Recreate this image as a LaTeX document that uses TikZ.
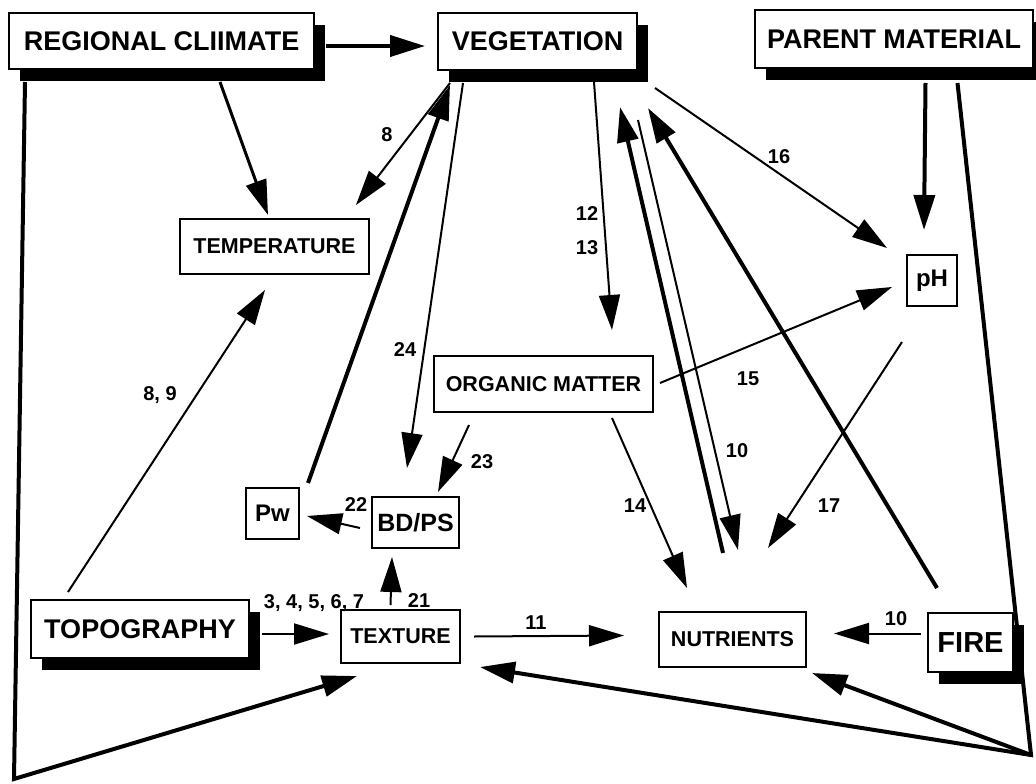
\documentclass[tikz,border=0pt]{standalone}
\usepackage{fontspec}
\setmainfont{Liberation Sans}
\usepackage{tikz}
\usetikzlibrary{arrows.meta}
\usetikzlibrary{shadows}
\usetikzlibrary{positioning}

\begin{document}
\begin{tikzpicture}[x=1pt, y=-1pt,  % one unit is one pixel of the scan, y runs down
     myboxbig/.style={rectangle, draw, fill=white, line width=2.2pt, inner sep=0pt, outer sep=0pt, font=\fontsize{27}{27}\selectfont\bfseries,
         drop shadow={shadow xshift=11pt, shadow yshift=-12pt, opacity=1, fill=black}},
     myboxsmall/.style={rectangle, draw, fill=white, line width=2pt, inner sep=0pt, outer sep=0pt, font=\fontsize{21.5}{21.5}\selectfont\bfseries},
     mythin/.style={line width=2pt, -{Triangle[length=35pt, width=21pt]}},
     mythick/.style={line width=4pt, -{Triangle[length=35pt, width=21pt]}},
     mynum/.style={inner sep=0pt, font=\fontsize{20}{20}\selectfont\bfseries}
 ]
 \useasboundingbox (0,0) rectangle (1036,784);

 % boxes with a shadow
 \node[myboxbig, minimum width=305pt, minimum height=56pt] (clim) at (161.5,41) {REGIONAL CLIIMATE};
 \node[myboxbig, minimum width=199pt, minimum height=57pt] (veg) at (537.5,41.5) {VEGETATION};
 \node[myboxbig, minimum width=278pt, minimum height=58pt] (parent) at (894,39) {PARENT MATERIAL};
 \node[myboxbig, minimum width=218pt, minimum height=58pt] (topo) at (140,629) {TOPOGRAPHY};
 \node[myboxbig, minimum width=85pt, minimum height=59pt, font=\fontsize{29}{29}\selectfont\bfseries] (fire) at (970.5,642.5) {FIRE};

 % plain boxes
 \node[myboxsmall, minimum width=189pt, minimum height=55pt] (temp) at (274.5,246.5) {TEMPERATURE};
 \node[myboxsmall, minimum width=50pt, minimum height=51pt, font=\fontsize{24}{24}\selectfont\bfseries] (ph) at (932,280.5) {pH};
 \node[myboxsmall, minimum width=219pt, minimum height=56pt] (org) at (543.5,384) {ORGANIC MATTER};
 \node[myboxsmall, minimum width=53pt, minimum height=51pt, font=\fontsize{24}{24}\selectfont\bfseries] (pw) at (272.5,513.5) {Pw};
 \node[myboxsmall, minimum width=87pt, minimum height=51pt, font=\fontsize{25}{25}\selectfont\bfseries] (bdps) at (415.5,522.5) {BD/PS};
 \node[myboxsmall, minimum width=119pt, minimum height=53pt] (tex) at (400.5,636.5) {TEXTURE};
 \node[myboxsmall, minimum width=147pt, minimum height=55pt] (nut) at (732.5,639.5) {NUTRIENTS};

 \coordinate (sw) at (14,779);
 \coordinate (se) at (1031,755);

 % heavy connectors
 \draw[mythick] ([shift={(12,5)}]clim.east) -- ([shift={(-13,4.5)}]veg.west);
 \draw[mythick, line width=3pt] ([shift={(58.5,13)}]clim.south) -- ([shift={(-6.5,-4)}]temp.north);
 \draw[mythick] ([shift={(9,-5)}]pw.north east) -- ([shift={(12,15)}]veg.south west);
 \draw[mythick] ([shift={(31.5,15)}]parent.south) -- ([shift={(-8,-25)}]ph.north);
 \draw[mythick] ([shift={(-9.5,-59)}]nut.north) -- ([shift={(-17,37)}]veg.south east);
 \draw[mythick] ([shift={(-33.5,-25)}]fire.north) -- ([shift={(11,38)}]veg.south east);
 \draw[mythick] ([shift={(16,13)}]clim.south west) -- (sw) -- ([shift={(16,13)}]tex.south west);
 \draw[mythick] ([shift={(63.5,15)}]parent.south) -- (se) -- ([shift={(20,4)}]tex.south east);
 \draw[mythick] (se) -- ([shift={(6,6)}]nut.south east);

 % light connectors
 \draw[mythin] ([shift={(12,13)}]veg.south west) -- ([shift={(-13,-14)}]temp.north east);
 \draw[mythin] ([shift={(25,13)}]veg.south west) -- ([shift={(-8.5,-29)}]bdps.north);
 \draw[mythin] ([shift={(56.5,12)}]veg.south) -- ([shift={(68.5,-26)}]org.north);
 \draw[mythin] ([shift={(18,18)}]veg.south east) -- ([shift={(-20,-7)}]ph.north west);
 \draw[mythin] ([shift={(1,50)}]veg.south east) -- ([shift={(5.5,-62)}]nut.north);
 \draw[mythin] ([shift={(37,-8)}]topo.north west) -- ([shift={(-9.5,16)}]temp.south);
 \draw[mythin] ([shift={(13,5)}]topo.east) -- ([shift={(-12,-2.5)}]tex.west);
 \draw[mythin] ([shift={(-10,-5)}]tex.north) -- ([shift={(-23.5,9)}]bdps.south);
 \draw[mythin] ([shift={(-12,5.5)}]bdps.west) -- ([shift={(8,2.5)}]pw.east);
 \draw[mythin] ([shift={(35,13)}]org.south west) -- ([shift={(-21,-5)}]bdps.north east);
 \draw[mythin] ([shift={(7,-1)}]org.east) -- ([shift={(-15,6.5)}]ph.west);
 \draw[mythin] ([shift={(68.5,6)}]org.south) -- ([shift={(-45.5,-24)}]nut.north);
 \draw[mythin] ([shift={(-30,36)}]ph.south) -- ([shift={(35.5,-64)}]nut.north);
 \draw[mythin] ([shift={(14,0)}]tex.east) -- ([shift={(-35,-4)}]nut.west);
 \draw[mythin] ([shift={(-7,-9)}]fire.west) -- ([shift={(28,-6)}]nut.east);

 % numbers on the connectors
 \node[mynum] (num12) at (587,214) {12};
 \node[mynum, below=19pt of num12] (num13) {13};
 \foreach \txt/\x/\y [count=\i] in {8/387/135, 24/405/350, 16/779/157, {8, 9}/160/395, {3, 4, 5, 6, 7}/314/603, 21/419/601,
     22/356/505, 23/482/462, 15/748/379, 14/635/506, 10/737/451, 17/829/506, 11/536/623, 10/896/619} {
     \node[mynum] (num\i) at (\x,\y) {\txt};
 }
\end{tikzpicture}
\end{document}
